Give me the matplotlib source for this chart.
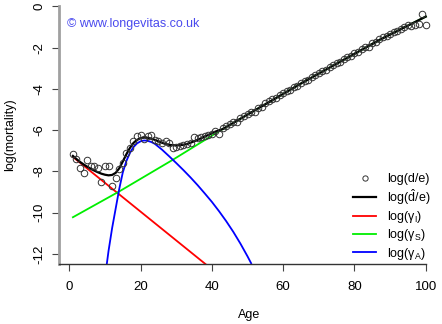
import matplotlib
matplotlib.use("Agg")
import matplotlib.pyplot as plt

plt.rcParams['font.family'] = ['Liberation Sans', 'DejaVu Sans']
plt.rcParams['mathtext.fontset'] = 'custom'
plt.rcParams['mathtext.rm'] = 'Liberation Sans'
plt.rcParams['mathtext.it'] = 'Liberation Sans'
plt.rcParams['mathtext.sf'] = 'Liberation Sans'

# Observed log(deaths / exposure) by single year of age
ages = list(range(1, 101))
log_obs = [
    -7.15, -7.38, -7.85, -8.10, -7.45, -7.72, -7.75, -7.85, -8.50, -7.75,
    -7.75, -8.70, -8.33, -7.88, -7.60, -7.12, -6.85, -6.55, -6.30, -6.22,
    -6.42, -6.28, -6.25, -6.48, -6.55, -6.62, -6.52, -6.60, -6.85, -6.80,
    -6.75, -6.72, -6.66, -6.62, -6.32, -6.40, -6.35, -6.30, -6.22, -6.18,
    -6.06, -6.20, -5.88, -5.80, -5.72, -5.60, -5.62, -5.40, -5.30, -5.22,
    -5.12, -5.10, -4.92, -4.86, -4.70, -4.58, -4.48, -4.45, -4.30, -4.22,
    -4.10, -4.05, -3.92, -3.88, -3.72, -3.62, -3.56, -3.42, -3.35, -3.22,
    -3.15, -3.08, -2.92, -2.86, -2.76, -2.72, -2.56, -2.46, -2.42, -2.28,
    -2.22, -2.08, -1.98, -1.95, -1.80, -1.72, -1.60, -1.50, -1.44, -1.36,
    -1.26, -1.20, -1.08, -1.02, -0.92, -0.95, -0.92, -0.88, -0.37, -0.90,
]

# Fitted total log-mortality
fit_ages = list(range(1, 44)) + [65, 87, 100]
log_fit = [
    -7.25, -7.40, -7.54, -7.66, -7.77, -7.87, -7.96, -8.04, -8.11, -8.16,
    -8.19, -8.17, -8.07, -7.85, -7.52, -7.17, -6.86, -6.62, -6.47, -6.39,
    -6.36, -6.37, -6.41, -6.47, -6.54, -6.61, -6.67, -6.71, -6.73, -6.74,
    -6.73, -6.71, -6.67, -6.61, -6.54, -6.47, -6.39, -6.31, -6.23, -6.15,
    -6.07, -6.01, -5.95, -3.74, -1.63, -0.50,
]

# Infant component (log-linear decline)
infant_ages = [1, 40]
log_infant = [-7.30, -12.74]

# Senescent component
senes_ages = [1, 14, 29, 43, 65, 87, 100]
log_senes = [-10.22, -8.97, -7.44, -5.95, -3.74, -1.63, -0.50]

# Accident hump component
accid_ages = [10.5, 11, 12, 13, 14, 15, 16, 17, 18, 19, 20, 21, 22, 23, 24,
              26, 28, 30, 32, 34, 36, 38, 40, 42, 44, 46, 48, 50, 51]
log_accid = [-12.5, -11.85, -10.75, -9.8, -8.85, -8.05, -7.5, -7.1, -6.82,
             -6.64, -6.54, -6.50, -6.52, -6.575, -6.665, -6.945, -7.265,
             -7.595, -7.935, -8.291, -8.667, -9.067, -9.477, -9.927,
             -10.407, -10.927, -11.497, -12.117, -12.447]

xticks = [0, 20, 40, 60, 80, 100]
yticks = [0, -2, -4, -6, -8, -10, -12]

W, H = 442, 324
fig = plt.figure(figsize=(W / 100, H / 100), dpi=100)
x0, x1 = 59, 440
y0, y1 = 6.3, 264.3
ax = fig.add_axes([x0 / W, 1 - y1 / H, (x1 - x0) / W, (y1 - y0) / H])
ax.set_xlim(-2.9, 104)
ax.set_ylim(-12.5, 0)

ax.plot(infant_ages, log_infant, color='#ff0000', lw=1.3)
ax.plot(senes_ages, log_senes, color='#00ee00', lw=1.3)
ax.plot(accid_ages, log_accid, color='#0000ff', lw=1.3)
ax.plot(fit_ages, log_fit, color='black', lw=1.6)
ax.plot(ages, log_obs, linestyle='none', marker='o', ms=4.7, mfc='none',
        mec='#333333', mew=0.7, clip_on=False)

for s in ['top', 'right']:
    ax.spines[s].set_visible(False)
ax.spines['left'].set_color('#a0a0a0')
ax.spines['left'].set_linewidth(2)
ax.spines['bottom'].set_color('#333333')
ax.spines['bottom'].set_linewidth(1)
ax.spines['bottom'].set_bounds(-2.9, 100)

ax.set_xticks(xticks)
ax.set_yticks(yticks)
ax.set_yticklabels([str(v) for v in yticks], rotation=90, va='center')
ax.tick_params(axis='both', direction='out', length=5, width=0.8,
               color='#444444', labelsize=9.5, labelcolor='black')
ax.tick_params(axis='x', pad=7)
ax.tick_params(axis='y', pad=5)

fig.text(249 / W, 1 - 315 / H, 'Age', ha='center', va='center', fontsize=9)
fig.text(10 / W, 1 - 135 / H, 'log(mortality)', ha='center', va='center',
         rotation=90, fontsize=9)

ax.text(0.02, 0.93, '\u00a9 www.longevitas.co.uk', transform=ax.transAxes,
        color='#4a4aee', fontsize=9, ha='left', va='center')

handles = [
    plt.Line2D([], [], linestyle='none', marker='o', ms=3.8, mfc='none',
               mec='#333333', mew=0.7),
    plt.Line2D([], [], color='black', lw=1.6),
    plt.Line2D([], [], color='#ff0000', lw=1.3),
    plt.Line2D([], [], color='#00ee00', lw=1.3),
    plt.Line2D([], [], color='#0000ff', lw=1.3),
]
labels = ['log(d/e)', r'log($\hat{\mathrm{d}}$/e)', r'log($\gamma_{\mathrm{I}}$)',
          r'log($\gamma_{\mathrm{S}}$)', r'log($\gamma_{\mathrm{A}}$)']
leg = ax.legend(handles, labels, loc='upper left',
                bbox_to_anchor=(353 / W, 1 - 173 / H),
                bbox_transform=fig.transFigure, frameon=False, fontsize=9,
                handlelength=1.85, handletextpad=0.85, labelspacing=0.18,
                borderpad=0, borderaxespad=0)

fig.savefig('out.png', dpi=100)
